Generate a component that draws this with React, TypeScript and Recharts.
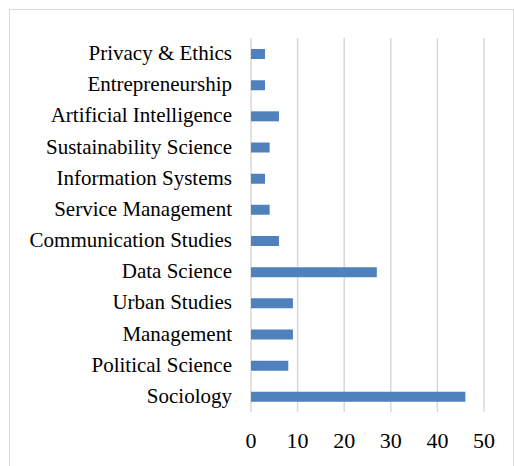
import { BarChart, Bar, XAxis, YAxis, CartesianGrid } from "recharts";

const categories = [
  "Privacy & Ethics",
  "Entrepreneurship",
  "Artificial Intelligence",
  "Sustainability Science",
  "Information Systems",
  "Service Management",
  "Communication Studies",
  "Data Science",
  "Urban Studies",
  "Management",
  "Political Science",
  "Sociology",
];
const counts = [3, 3, 6, 4, 3, 4, 6, 27, 9, 9, 8, 46];
const xTicks = [0, 10, 20, 30, 40, 50];

const data = categories.map((name, i) => ({ name, count: counts[i] }));

const font = "'Liberation Serif', 'Times New Roman', serif";

const App = () => {
  return (
    <div style={{ position: "absolute", left: 0, top: 0, width: 514, height: 466, background: "#fff", overflow: "hidden" }}>
      <div
        style={{
          position: "absolute",
          left: 9,
          top: 9,
          width: 503,
          height: 480,
          border: "1px solid #d9d9d9",
        }}
      />
      <div style={{ position: "absolute", left: 0, top: 0 }}>
        <BarChart
          width={514}
          height={466}
          data={data}
          layout="vertical"
          margin={{ top: 38, right: 30, bottom: 14, left: 0 }}
        >
          <CartesianGrid horizontal={false} vertical={true} stroke="#d9d9d9" strokeWidth={1.5} />
          <XAxis
            type="number"
            domain={[0, 50]}
            ticks={xTicks}
            axisLine={false}
            tickLine={false}
            tickSize={0}
            tickMargin={20}
            height={40}
            tick={{ fill: "#000", fontSize: 22, fontFamily: font }}
          />
          <YAxis
            type="category"
            dataKey="name"
            width={251}
            axisLine={false}
            tickLine={false}
            tickSize={0}
            tickMargin={19}
            interval={0}
            tick={{ fill: "#000", fontSize: 21, fontFamily: font, dy: -1 }}
          />
          <Bar dataKey="count" fill="#4F81BD" barSize={10} isAnimationActive={false} />
        </BarChart>
      </div>
    </div>
  );
};

export default App;
